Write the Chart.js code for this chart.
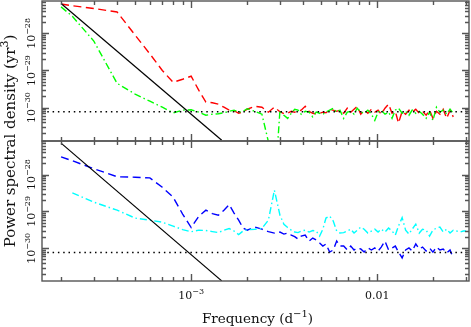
<!DOCTYPE html>
<html>
<head>
<meta charset="utf-8">
<script src="https://cdn.jsdelivr.net/npm/chart.js@4/dist/chart.umd.min.js"></script>
<style>
  html, body { margin: 0; padding: 0; background: #fff; }
  #wrap { width: 471px; height: 327px; }
</style>
</head>
<body>
<div id="wrap"><canvas id="graph" width="471" height="327"></canvas></div>
<script>
// frequency grid, d^-1
const freq = [
  2.0e-4, 2.3e-4, 3.0e-4, 4.0e-4, 5.0e-4, 6.0e-4, 7.0e-4, 8.0e-4, 9.0e-4,
  1.0e-3, 1.1e-3, 1.2e-3, 1.3e-3, 1.4e-3, 1.5e-3, 1.6e-3, 1.7e-3, 1.8e-3, 1.9e-3,
  2.0e-3, 2.2e-3, 2.4e-3, 2.6e-3, 2.8e-3, 3.0e-3, 3.15e-3, 3.3e-3, 3.45e-3, 3.6e-3, 3.75e-3, 3.9e-3,
  4.1e-3, 4.3e-3, 4.5e-3, 4.7e-3, 4.9e-3, 5.1e-3, 5.3e-3, 5.55e-3, 5.8e-3, 6.05e-3, 6.3e-3, 6.6e-3, 6.9e-3,
  7.2e-3, 7.5e-3, 7.8e-3, 8.15e-3, 8.5e-3, 8.9e-3, 9.3e-3, 9.7e-3,
  0.0101, 0.0105, 0.0110, 0.0115, 0.0120, 0.0125, 0.0130, 0.0136, 0.0142, 0.0148, 0.0154,
  0.0161, 0.0168, 0.0175, 0.0183, 0.0191, 0.0199, 0.0208, 0.0217, 0.0226, 0.0236, 0.0246, 0.0256,
  0.0267, 0.0278, 0.0290, 0.0300
];

// upper panel (yr^3)
const redPsd = [
  6.2e-28, 5.6e-28, 4.7e-28, 3.8e-28, 9.0e-29, 2.8e-29, 1.0e-29, 4.8e-30, 5.8e-30,
  7.0e-30, 2.9e-30, 1.4e-30, 1.35e-30, 1.23e-30, 1.02e-30, 8.5e-31, 8.2e-31, 7.0e-31, 7.5e-31,
  9.0e-31, 1.08e-30, 1.02e-30, 7.5e-31, 1.02e-30, 7.7e-31, 6.8e-31, 7.0e-31, 7.9e-31, 7.5e-31, 7.9e-31, 8.5e-31,
  1.08e-30, 7.9e-31, 7.0e-31, 6.8e-31, 7.0e-31, 7.5e-31, 7.2e-31, 8.7e-31, 8.5e-31, 7.9e-31, 8.5e-31, 7.0e-31, 9.6e-31,
  7.5e-31, 9.0e-31, 1.08e-30, 6.6e-31, 8.5e-31, 7.0e-31, 9.0e-31, 7.5e-31,
  8.5e-31, 6.6e-31, 9.6e-31, 1.23e-30, 7.0e-31, 7.9e-31, 3.8e-31, 7.9e-31, 6.6e-31, 8.5e-31, 7.5e-31,
  9.0e-31, 7.0e-31, 7.9e-31, 6.2e-31, 8.5e-31, 5.1e-31, 7.9e-31, 6.6e-31, 9.0e-31, 5.1e-31, 8.5e-31, 5.6e-31,
  null, null, null, null
];
const greenPsd = [
  5.2e-28, 2.9e-28, 6.2e-29, 4.5e-30, 2.3e-30, 1.48e-30, 1.02e-30, 7.2e-31, 8.5e-31,
  8.7e-31, 7.5e-31, 6.2e-31, 6.6e-31, 6.8e-31, 7.2e-31, 7.9e-31, 8.5e-31, 7.5e-31, 7.9e-31,
  9.3e-31, 7.9e-31, 6.6e-31, 1.2e-31, 5.0e-33, 8.5e-31, 6.2e-31, 5.1e-31, 7.0e-31, 9.0e-31, 8.5e-31, 6.6e-31,
  7.9e-31, 7.5e-31, 5.6e-31, 7.5e-31, 7.0e-31, 6.6e-31, 7.5e-31, 8.5e-31, 9.6e-31, 7.5e-31, 8.5e-31, 5.1e-31, 7.5e-31,
  7.9e-31, 6.6e-31, 9.6e-31, 7.5e-31, 7.0e-31, 8.5e-31, 6.6e-31, 4.5e-31,
  7.5e-31, 8.5e-31, 6.6e-31, 7.5e-31, 5.1e-31, 8.5e-31, 9.6e-31, 7.0e-31, 7.9e-31, 6.2e-31, 8.5e-31,
  7.0e-31, 7.9e-31, 6.6e-31, 5.1e-31, 7.5e-31, 4.5e-31, 1.02e-30, 7.5e-31, 8.5e-31, 6.6e-31, 9.0e-31, 7.0e-31,
  null, null, null, null
];

// lower panel (yr^3)
const bluePsd = [
  3.0e-28, 2.36e-28, 1.44e-28, 8.7e-29, 8.45e-29, 8.1e-29, 4.5e-29, 2.43e-29, 8.45e-30,
  3.65e-30, 7.46e-30, 1.08e-29, 8.7e-30, 7.9e-30, 1.08e-29, 1.53e-29, 9.0e-30, 5.8e-30, 3.54e-30,
  3.1e-30, 3.77e-30, 3.3e-30, 2.84e-30, 2.59e-30, 2.76e-30, 2.43e-30, 2.59e-30, 2.29e-30, 2.08e-30, 1.78e-30, 2.15e-30,
  2.29e-30, 1.57e-30, 1.9e-30, 1.68e-30, 1.39e-30, 1.15e-30, 1.31e-30, 7.9e-31, 9.0e-31, 1.57e-30, 1.15e-30, 1.15e-30, 9.0e-31,
  1.15e-30, 9.0e-31, 1.02e-30, 9.6e-31, 7.9e-31, 1.02e-30, 9.0e-31, 1.02e-30,
  8.45e-31, 1.08e-30, 1.57e-30, 9.0e-31, 1.02e-30, 1.15e-30, 7.9e-31, 5.5e-31, 9.0e-31, 1.02e-30, 8.45e-31,
  1.31e-30, 9.6e-31, 1.08e-30, 8.45e-31, 1.02e-30, 7.9e-31, 1.08e-30, 9.0e-31, 9.6e-31, 7.46e-31, 9.0e-31, 5.5e-31,
  null, null, null, null
];
const cyanPsd = [
  null, 3.18e-29, 1.78e-29, 1.08e-29, 6.6e-30, 5.8e-30, 5.1e-30, 4.0e-30, 3.22e-30,
  2.81e-30, 3.1e-30, 3.03e-30, 2.84e-30, 2.67e-30, 3.1e-30, 3.43e-30, 2.94e-30, 2.36e-30, 2.94e-30,
  3.22e-30, 3.3e-30, 3.47e-30, 5.8e-30, 3.77e-29, 7.9e-30, 4.5e-30, 3.65e-30, 3.1e-30, 2.76e-30, 2.67e-30, 2.94e-30,
  3.1e-30, 2.76e-30, 3.03e-30, 2.94e-30, 2.15e-30, 3.3e-30, 6.6e-30, 7.46e-30, 5.47e-30, 2.94e-30, 2.59e-30, 2.67e-30, 2.94e-30,
  3.3e-30, 2.59e-30, 3.1e-30, 3.77e-30, 3.3e-30, 2.59e-30, 2.94e-30, 3.3e-30,
  2.76e-30, 3.3e-30, 2.76e-30, 3.54e-30, 2.94e-30, 2.29e-30, 4.0e-30, 6.8e-30, 3.1e-30, 2.43e-30, 3.3e-30,
  4.5e-30, 2.59e-30, 3.3e-30, 3.1e-30, 2.15e-30, 3.1e-30, 3.54e-30, 3.77e-30, 2.76e-30, 3.3e-30, 2.59e-30, 3.1e-30,
  2.94e-30, 2.76e-30, 2.94e-30, 2.94e-30
];

// power-law reference line (end points) and flat noise level
const lawFreq = [2.0e-4, 1.46e-3];
const lawTop = [6.45e-28, 1.31e-31];
const lawBottom = [7.1e-28, 1.31e-31];
const noiseFreq = [1.58e-4, 0.0311];
const noiseLevel = [7.7e-31, 7.7e-31];

// axis ranges and labelled ticks
const xRange = [1.58e-4, 0.0311];
const yTopRange = [1.25e-31, 7.5e-28];
const yBottomRange = [1.3e-31, 8.1e-28];
const xLabelled = [1e-3, 1e-2];
const xLabels = [[["10", false], ["\u22123", true]], [["0.01", false]]];
const yLabelled = [1e-30, 1e-29, 1e-28];
const yLabels = [
  [["10", false], ["\u221230", true]],
  [["10", false], ["\u221229", true]],
  [["10", false], ["\u221228", true]]
];

const FONT = '"DejaVu Serif"';

function series(xs, ys) {
  return xs.map((f, i) => ({ x: f, y: ys[i] }));
}

// all 1..9 x 10^n positions inside a range
function logTicks(min, max) {
  let out = [];
  for (let e = Math.floor(Math.log10(min)); e <= Math.ceil(Math.log10(max)); e++) {
    for (let k = 1; k < 10; k++) {
      let v = k * Math.pow(10, e);
      if (v >= min && v <= max) out.push({ v: v, major: k === 1 });
    }
  }
  return out;
}

// text made of normal + superscript pieces, centred on (x, y)
function drawParts(ctx, parts, x, y, size, rotate) {
  const big = size + 'px ' + FONT;
  const small = Math.round(size * 0.72) + 'px ' + FONT;
  ctx.save();
  ctx.translate(x, y);
  if (rotate) ctx.rotate(-Math.PI / 2);
  ctx.textAlign = 'left';
  ctx.textBaseline = 'alphabetic';
  let widths = parts.map(p => { ctx.font = p[1] ? small : big; return ctx.measureText(p[0]).width; });
  let cx = -widths.reduce((a, b) => a + b, 0) / 2;
  parts.forEach((p, i) => {
    ctx.font = p[1] ? small : big;
    ctx.fillText(p[0], cx, p[1] ? -size * 0.45 : 0);
    cx += widths[i];
  });
  ctx.restore();
}

// keep each dataset inside its own panel
const panelClip = {
  id: 'panelClip',
  beforeDatasetDraw(chart, args) {
    const xs = chart.scales.x, ys = args.meta.yScale;
    chart.ctx.save();
    chart.ctx.beginPath();
    chart.ctx.rect(xs.left, ys.top, xs.right - xs.left, ys.bottom - ys.top);
    chart.ctx.clip();
  },
  afterDatasetDraw(chart) {
    chart.ctx.restore();
  }
};

// frames, inward ticks and all labels
const framePlugin = {
  id: 'frame',
  afterDatasetsDraw(chart) {
    const ctx = chart.ctx;
    const xs = chart.scales.x;
    ctx.save();
    ctx.strokeStyle = '#555';
    ctx.lineWidth = 1.4;
    ['yTop', 'yBottom'].forEach(id => {
      const ys = chart.scales[id];
      ctx.strokeRect(xs.left, ys.top, xs.right - xs.left, ys.bottom - ys.top);
      ctx.beginPath();
      logTicks(xs.min, xs.max).forEach(t => {
        const px = Math.round(xs.getPixelForValue(t.v)) + 0.5;
        const len = t.major ? 7 : 4;
        ctx.moveTo(px, ys.bottom); ctx.lineTo(px, ys.bottom - len);
        ctx.moveTo(px, ys.top); ctx.lineTo(px, ys.top + len);
      });
      logTicks(ys.min, ys.max).forEach(t => {
        const py = Math.round(ys.getPixelForValue(t.v)) + 0.5;
        const len = t.major ? 7 : 4;
        ctx.moveTo(xs.left, py); ctx.lineTo(xs.left + len, py);
        ctx.moveTo(xs.right, py); ctx.lineTo(xs.right - len, py);
      });
      ctx.stroke();

      ctx.fillStyle = '#111';
      yLabelled.forEach((v, i) => {
        drawParts(ctx, yLabels[i], 35, ys.getPixelForValue(v), 11, true);
      });
    });

    ctx.fillStyle = '#111';
    xLabelled.forEach((v, i) => {
      drawParts(ctx, xLabels[i], xs.getPixelForValue(v), 299, 11, false);
    });
    drawParts(ctx, [["Frequency (d", false], ["\u22121", true], [")", false]],
      (xs.left + xs.right) / 2 + 2, 323, 13.5, false);
    drawParts(ctx, [["Power spectral density (yr", false], ["3", true], [")", false]],
      15, chart.scales.yTop.bottom, 15, true);
    ctx.restore();
  }
};

const common = { pointRadius: 0, fill: false, tension: 0, borderWidth: 1.4, clip: false, spanGaps: false };

const ctx = document.getElementById('graph');

new Chart(ctx, {
  type: 'line',
  data: {
    datasets: [
      Object.assign({ data: series(lawFreq, lawTop), yAxisID: 'yTop', borderColor: '#000' }, common, { borderWidth: 1.2 }),
      Object.assign({ data: series(noiseFreq, noiseLevel), yAxisID: 'yTop', borderColor: '#000', borderDash: [1.5, 3.8] }, common),
      Object.assign({ data: series(freq, greenPsd), yAxisID: 'yTop', borderColor: '#00ff00', borderDash: [7, 3, 1.5, 3] }, common),
      Object.assign({ data: series(freq, redPsd), yAxisID: 'yTop', borderColor: '#ff0000', borderDash: [8, 4.5] }, common),
      Object.assign({ data: series(lawFreq, lawBottom), yAxisID: 'yBottom', borderColor: '#000' }, common, { borderWidth: 1.2 }),
      Object.assign({ data: series(noiseFreq, noiseLevel), yAxisID: 'yBottom', borderColor: '#000', borderDash: [1.5, 3.8] }, common),
      Object.assign({ data: series(freq, cyanPsd), yAxisID: 'yBottom', borderColor: '#00ffff', borderDash: [7, 3, 1.5, 3] }, common),
      Object.assign({ data: series(freq, bluePsd), yAxisID: 'yBottom', borderColor: '#0000ff', borderDash: [8, 4.5] }, common)
    ]
  },
  options: {
    responsive: false,
    devicePixelRatio: 1,
    animation: false,
    events: [],
    layout: { padding: { left: 42, right: 2, top: 1, bottom: 46 } },
    plugins: { legend: { display: false }, tooltip: { enabled: false } },
    scales: {
      x: { type: 'logarithmic', min: xRange[0], max: xRange[1], display: false },
      yTop: {
        type: 'logarithmic', position: 'left', stack: 'psd', stackWeight: 1, weight: 2,
        min: yTopRange[0], max: yTopRange[1], display: false
      },
      yBottom: {
        type: 'logarithmic', position: 'left', stack: 'psd', stackWeight: 1, weight: 1,
        min: yBottomRange[0], max: yBottomRange[1], display: false
      }
    }
  },
  plugins: [panelClip, framePlugin]
});
</script>
</body>
</html>
